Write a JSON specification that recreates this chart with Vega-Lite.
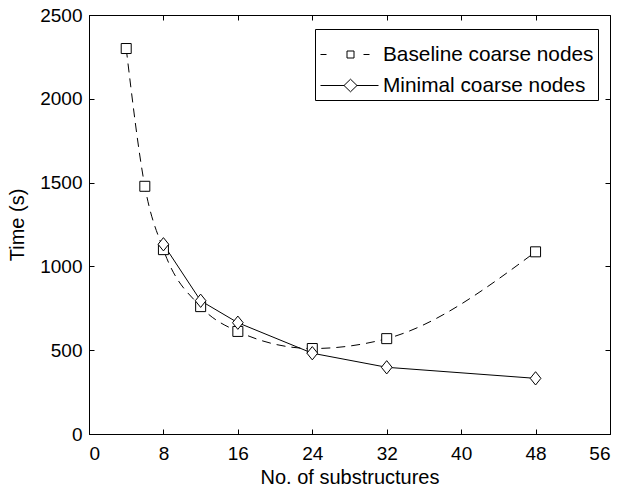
{
  "$schema": "https://vega.github.io/schema/vega-lite/v6.json",
  "width": 521,
  "height": 419,
  "autosize": {"type": "none"},
  "padding": {"left": 89, "top": 15, "right": 13, "bottom": 55},
  "background": "white",
  "config": {
    "view": {"stroke": "black", "strokeWidth": 1},
    "font": "Liberation Sans",
    "axis": {
      "grid": false,
      "domainColor": "black",
      "domainWidth": 1,
      "tickColor": "black",
      "tickWidth": 1,
      "tickSize": -5,
      "labelFont": "Liberation Sans",
      "labelFontSize": 19,
      "labelColor": "black",
      "titleFont": "Liberation Sans",
      "titleFontSize": 20,
      "titleFontWeight": "normal",
      "titleColor": "black",
      "labelOverlap": false,
      "format": "d"
    }
  },
  "data": {
    "values": [
      {"series": "Baseline coarse nodes", "n": 4, "t": 2300},
      {"series": "Baseline coarse nodes", "n": 6, "t": 1478},
      {"series": "Baseline coarse nodes", "n": 8, "t": 1100},
      {"series": "Baseline coarse nodes", "n": 12, "t": 760},
      {"series": "Baseline coarse nodes", "n": 16, "t": 612},
      {"series": "Baseline coarse nodes", "n": 24, "t": 510},
      {"series": "Baseline coarse nodes", "n": 32, "t": 569},
      {"series": "Baseline coarse nodes", "n": 48, "t": 1087},
      {"series": "Minimal coarse nodes", "n": 8, "t": 1132},
      {"series": "Minimal coarse nodes", "n": 12, "t": 795},
      {"series": "Minimal coarse nodes", "n": 16, "t": 664},
      {"series": "Minimal coarse nodes", "n": 24, "t": 482},
      {"series": "Minimal coarse nodes", "n": 32, "t": 398},
      {"series": "Minimal coarse nodes", "n": 48, "t": 332}
    ]
  },
  "resolve": {"axis": {"x": "independent", "y": "independent"}},
  "layer": [
    {
      "transform": [{"filter": "datum.series === 'Baseline coarse nodes'"}],
      "mark": {"type": "line", "color": "black", "strokeWidth": 1, "strokeDash": [9, 6], "interpolate": "monotone"},
      "encoding": {
        "x": {"field": "n", "type": "quantitative", "scale": {"domain": [0, 56], "nice": false, "zero": false},
              "axis": {"values": [0, 8, 16, 24, 32, 40, 48, 56], "title": "No. of substructures", "labelPadding": 15, "titlePadding": 4}},
        "y": {"field": "t", "type": "quantitative", "scale": {"domain": [0, 2500], "nice": false},
              "axis": {"values": [0, 500, 1000, 1500, 2000, 2500], "title": "Time (s)", "labelPadding": 12, "titlePadding": 12}}
      }
    },
    {
      "transform": [{"filter": "datum.series === 'Minimal coarse nodes'"}],
      "mark": {"type": "line", "color": "black", "strokeWidth": 1},
      "encoding": {
        "x": {"field": "n", "type": "quantitative", "axis": null},
        "y": {"field": "t", "type": "quantitative", "axis": null}
      }
    },
    {
      "transform": [{"filter": "datum.series === 'Baseline coarse nodes'"}],
      "mark": {"type": "point", "shape": "square", "filled": false, "fill": "white", "fillOpacity": 1, "stroke": "black", "strokeWidth": 1, "opacity": 1, "size": 100},
      "encoding": {
        "x": {"field": "n", "type": "quantitative", "axis": null},
        "y": {"field": "t", "type": "quantitative", "axis": null}
      }
    },
    {
      "transform": [{"filter": "datum.series === 'Minimal coarse nodes'"}],
      "mark": {"type": "point", "shape": "M0,-1.33L1.07,0L0,1.33L-1.07,0Z", "filled": false, "fill": "white", "fillOpacity": 1, "stroke": "black", "strokeWidth": 1, "opacity": 1, "size": 100},
      "encoding": {
        "x": {"field": "n", "type": "quantitative", "axis": null},
        "y": {"field": "t", "type": "quantitative", "axis": null}
      }
    },
    {
      "mark": {"type": "point", "filled": false, "fill": "white", "fillOpacity": 1, "strokeWidth": 1, "opacity": 1, "size": 400, "clip": true},
      "encoding": {
        "x": {"datum": -100, "type": "quantitative", "axis": null},
        "y": {"field": "t", "type": "quantitative", "axis": null},
        "shape": {"field": "series", "type": "nominal",
                  "scale": {"domain": ["Baseline coarse nodes", "Minimal coarse nodes"],
                            "range": ["M-3,0L-2.4,0M-0.35,-0.35L0.35,-0.35L0.35,0.35L-0.35,0.35ZM1.3,0L1.9,0", "M-3,0L-0.65,0M-0.65,0L0,-0.63L0.65,0L0,0.63ZM0.65,0L2.8,0"]},
                  "legend": null},
        "color": {"field": "series", "type": "nominal",
                  "scale": {"domain": ["Baseline coarse nodes", "Minimal coarse nodes"], "range": ["black", "black"]},
                  "legend": {
                    "title": " ",
                    "titleFontSize": 11,
                    "titlePadding": 0,
                    "orient": "none",
                    "legendX": 226,
                    "legendY": 14,
                    "padding": 4,
                    "strokeColor": "black",
                    "fillColor": "white",
                    "labelFont": "Liberation Sans",
                    "labelFontSize": 20.8,
                    "labelColor": "black",
                    "labelLimit": 400,
                    "symbolSize": 400,
                    "symbolStrokeWidth": 1,
                    "symbolOffset": 21,
                    "labelOffset": 22,
                    "rowPadding": 9
                  }}
      }
    },
    {
      "mark": {"type": "point", "opacity": 0},
      "encoding": {
        "x": {"field": "n", "type": "quantitative",
              "axis": {"orient": "top", "values": [0, 8, 16, 24, 32, 40, 48, 56], "labels": false, "title": null, "domain": false}},
        "y": {"field": "t", "type": "quantitative",
              "axis": {"orient": "right", "values": [0, 500, 1000, 1500, 2000, 2500], "labels": false, "title": null, "domain": false}}
      }
    }
  ]
}
